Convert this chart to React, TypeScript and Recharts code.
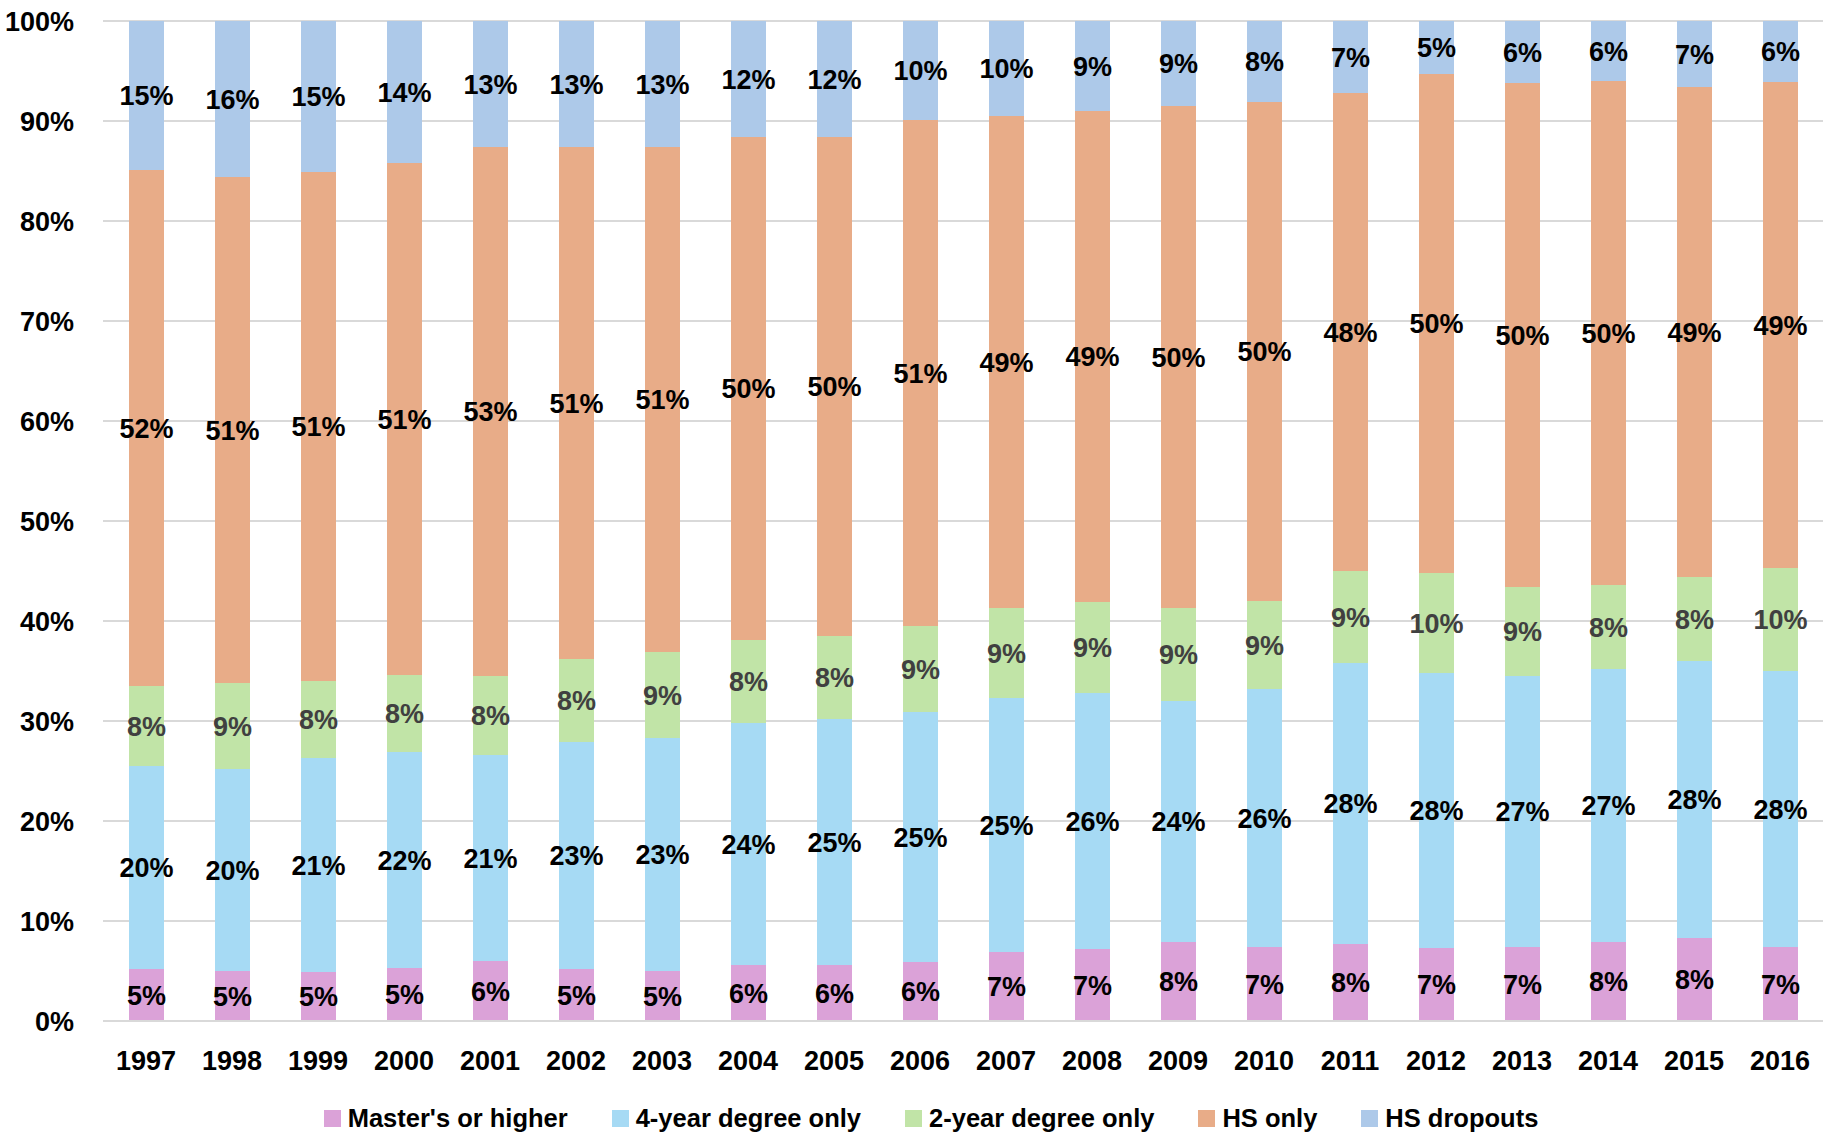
import React from 'react';
import { BarChart, Bar, XAxis, YAxis, CartesianGrid, LabelList } from 'recharts';

const years = ['1997','1998','1999','2000','2001','2002','2003','2004','2005','2006','2007','2008','2009','2010','2011','2012','2013','2014','2015','2016'];
const masters = [5.2, 5.0, 4.9, 5.3, 6.0, 5.2, 5.0, 5.6, 5.6, 5.9, 6.9, 7.2, 7.9, 7.4, 7.7, 7.3, 7.4, 7.9, 8.3, 7.4];
const fourYear = [20.3, 20.2, 21.4, 21.6, 20.6, 22.7, 23.3, 24.2, 24.6, 25.0, 25.4, 25.6, 24.1, 25.8, 28.1, 27.5, 27.1, 27.3, 27.7, 27.6];
const twoYear = [8.0, 8.6, 7.7, 7.7, 7.9, 8.3, 8.6, 8.3, 8.3, 8.6, 9.0, 9.1, 9.3, 8.8, 9.2, 10.0, 8.9, 8.4, 8.4, 10.3];
const hsOnly = [51.6, 50.6, 50.9, 51.2, 52.9, 51.2, 50.5, 50.3, 49.9, 50.6, 49.2, 49.1, 50.2, 49.9, 47.8, 49.9, 50.4, 50.4, 49.0, 48.6];
const dropouts = [14.9, 15.6, 15.1, 14.2, 12.6, 12.6, 12.6, 11.6, 11.6, 9.9, 9.5, 9.0, 8.5, 8.1, 7.2, 5.3, 6.2, 6.0, 6.6, 6.1];
const yTicks = [0, 10, 20, 30, 40, 50, 60, 70, 80, 90, 100];

const seriesNames = ["Master's or higher", '4-year degree only', '2-year degree only', 'HS only', 'HS dropouts'];
const seriesKeys = ['masters', 'fourYear', 'twoYear', 'hsOnly', 'dropouts'];
const seriesColors = ['#DBA2D8', '#A6DAF4', '#C1E4A7', '#E8AC88', '#ADC9E9'];
const labelColors = ['#000000', '#000000', '#404040', '#000000', '#000000'];

const data = years.map((year, i) => ({
  year,
  masters: masters[i],
  fourYear: fourYear[i],
  twoYear: twoYear[i],
  hsOnly: hsOnly[i],
  dropouts: dropouts[i],
}));

const FONT = '"Liberation Sans", Arial, sans-serif';
const FS = 27;

const fmt = (v: any) => `${Math.round(Number(v))}%`;

export default function App() {
  return (
    <div style={{ position: 'absolute', left: 0, top: 0, width: 1838, height: 1142, background: '#fff' }}>
      <BarChart
        width={1838}
        height={1142}
        data={data}
        margin={{ top: 21, right: 15, left: 0, bottom: 81 }}
        barSize={35}
      >
        <CartesianGrid horizontal vertical={false} stroke="#D9D9D9" strokeWidth={2} />
        <XAxis
          dataKey="year"
          tickLine={false}
          axisLine={{ stroke: '#D9D9D9', strokeWidth: 2 }}
          tickSize={0}
          tickMargin={30}
          height={40}
          interval={0}
          tick={{ fill: '#000', fontSize: FS, fontWeight: 'bold', fontFamily: FONT }}
        />
        <YAxis
          type="number"
          domain={[0, 100]}
          ticks={yTicks}
          interval={0}
          width={103}
          tickLine={false}
          axisLine={false}
          tickSize={0}
          tickMargin={29}
          tickFormatter={(v: number) => `${v}%`}
          tick={{ fill: '#000', fontSize: FS, fontWeight: 'bold', fontFamily: FONT }}
        />
        {seriesKeys.map((k, i) => (
          <Bar key={k} dataKey={k} name={seriesNames[i]} stackId="a" fill={seriesColors[i]} isAnimationActive={false}>
            <LabelList
              dataKey={k}
              position="center"
              formatter={fmt}
              fill={labelColors[i]}
              style={{ fontSize: FS, fontWeight: 'bold', fontFamily: FONT }}
            />
          </Bar>
        ))}
      </BarChart>
      <div
        style={{
          position: 'absolute', left: 12, top: 1100, width: 1838, height: 36,
          display: 'flex', justifyContent: 'center', alignItems: 'center', gap: 44,
          fontFamily: FONT, fontWeight: 'bold', fontSize: 25.5, color: '#000',
        }}
      >
        {seriesNames.map((n, i) => (
          <div key={n} style={{ display: 'flex', alignItems: 'center' }}>
            <span style={{ display: 'inline-block', width: 17, height: 17, background: seriesColors[i], marginRight: 7 }} />
            <span>{n}</span>
          </div>
        ))}
      </div>
    </div>
  );
}
